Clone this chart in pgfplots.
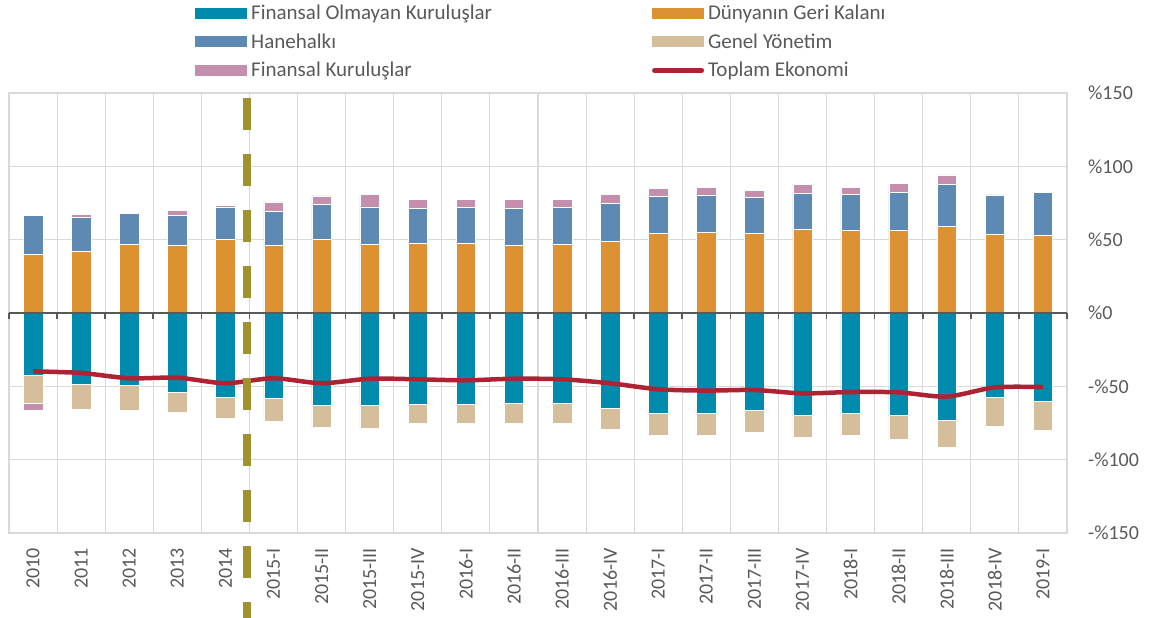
\documentclass[border=0pt]{standalone}
\usepackage{fontspec}
\setmainfont{Carlito}
\usepackage{pgfplots}
\pgfplotsset{compat=1.18}
\usepackage{pgfplotstable}

\definecolor{fok}{HTML}{008AAD}
\definecolor{dgk}{HTML}{DC9232}
\definecolor{hane}{HTML}{5E89B2}
\definecolor{genel}{HTML}{D5BE9B}
\definecolor{fk}{HTML}{C48FAC}
\definecolor{toplam}{HTML}{AE2334}
\definecolor{olivedash}{HTML}{A0922E}
\definecolor{txt}{HTML}{595959}
\definecolor{grd}{HTML}{D9D9D9}

% x: 0 = 2010 ... 4 = 2014, 5 = 2015-I ... 21 = 2019-I
\pgfplotstableread{
x  dgk  hane fkp  fok   genel fkn  toplam
0  40.0 26.4 0.0 -42.3 -19.1 -5.0 -39.8
1  41.8 23.2 2.3 -48.4 -17.5  0.0 -40.9
2  46.8 21.2 0.0 -49.1 -17.3 -0.6 -44.5
3  46.1 20.3 3.4 -54.1 -13.6  0.0 -44.1
4  50.2 21.6 1.8 -57.7 -14.4  0.0 -47.9
5  46.1 23.4 6.2 -58.2 -15.7  0.0 -44.5
6  50.2 23.7 5.9 -62.9 -15.3  0.0 -47.9
7  47.0 25.3 8.4 -62.9 -15.7  0.0 -44.8
8  47.5 23.6 6.2 -62.5 -13.0  0.0 -45.2
9  47.5 24.3 5.5 -62.0 -13.5  0.0 -45.9
10 46.1 25.0 6.2 -61.4 -13.6  0.0 -44.8
11 46.6 25.2 5.9 -61.6 -13.9  0.0 -45.2
12 48.9 25.6 6.2 -65.0 -14.1  0.0 -47.9
13 54.1 25.2 5.7 -68.2 -15.2  0.0 -52.0
14 55.2 25.3 5.0 -68.2 -15.2  0.0 -52.9
15 54.3 24.3 4.8 -66.1 -15.0  0.0 -52.5
16 57.0 24.4 6.1 -69.5 -15.5  0.0 -54.8
17 56.1 24.6 5.0 -68.2 -15.2  0.0 -53.9
18 56.1 25.9 6.4 -70.0 -15.9  0.0 -54.1
19 59.1 28.4 6.6 -73.0 -18.8  0.0 -57.0
20 53.9 26.6 0.0 -57.7 -19.3 -0.9 -50.7
21 53.0 29.0 1.0 -60.2 -20.0  0.0 -50.5
}\data

\pgfplotsset{
  base/.style={
    scale only axis, width=1058pt, height=440pt,
    xmin=-0.5, xmax=21.5, ymin=-150, ymax=150,
    at={(0pt,0pt)}, anchor=south west,
  },
  bars/.style={ybar stacked, bar width=0.405, bar shift=0pt},
  seg/.style={fill=#1, draw=white, line width=0.5pt},
  barleg/.style={legend image code/.code={\fill[##1, draw=none] (0pt,-5.5pt) rectangle (52pt,5.5pt);}},
  lineleg/.style={legend image code/.code={\draw[##1, line width=5pt, line cap=round] (2.5pt,0pt) -- (49.5pt,0pt);}},
}

\begin{document}
\begin{tikzpicture}
\useasboundingbox (-9pt,-85pt) rectangle (1147pt,533pt);

% grid, labels and positive stack
\begin{axis}[base, bars,
  axis line style={draw=grd, line width=1.2pt},
  xtick={0,...,21},
  xticklabels={2010,2011,2012,2013,2014,2015-I,2015-II,2015-III,2015-IV,2016-I,2016-II,2016-III,2016-IV,2017-I,2017-II,2017-III,2017-IV,2018-I,2018-II,2018-III,2018-IV,2019-I},
  minor xtick={-0.5,0.5,...,21.5},
  xminorgrids, ymajorgrids,
  minor grid style={draw=grd, line width=1.1pt},
  major grid style={draw=grd, line width=1.1pt},
  ytick={-150,-100,...,150},
  yticklabels={-\%150,-\%100,-\%50,\%0,\%50,\%100,\%150},
  ytick pos=right, xtick pos=bottom,
  major tick length=0pt, minor tick length=0pt,
  tick style={draw=none},
  xticklabel style={rotate=90, anchor=east, inner sep=0pt, text=txt, font=\fontsize{20}{24}\selectfont},
  xticklabel shift=15pt,
  yticklabel style={anchor=west, inner sep=0pt, text=txt, font=\fontsize{20}{24}\selectfont},
  yticklabel shift=21pt,
]
\addplot[seg=dgk] table[x=x, y=dgk] {\data};
\addplot[seg=hane] table[x=x, y=hane] {\data};
\addplot[seg=fk] table[x=x, y=fkp] {\data};
\end{axis}

% negative stack
\begin{axis}[base, bars, hide axis]
\addplot[seg=fok] table[x=x, y=fok] {\data};
\addplot[seg=genel] table[x=x, y=genel] {\data};
\addplot[seg=fk] table[x=x, y=fkn] {\data};
\end{axis}

% zero line, total line, break marker, legend
\begin{axis}[base, hide axis, clip=false,
  legend columns=2, legend cell align=left,
  legend style={draw=none, fill=none, inner sep=0pt, text=txt,
    at={(0.1758,1.2045)}, anchor=north west,
    font=\fontsize{21}{25}\selectfont,
    nodes={inner sep=2pt}, row sep=8.5pt,
    /tikz/every odd column/.append style={column sep=2pt},
    /tikz/every even column/.append style={column sep=158pt}},
]
\draw[txt, line width=2.5pt] (axis cs:-0.5,0) -- (axis cs:21.5,0);
\pgfplotsinvokeforeach{-0.5,0.5,...,21.5}{
  \draw[txt, line width=1.6pt] (axis cs:#1,0) -- ([yshift=-6pt]axis cs:#1,0);
}
\addplot[toplam, line width=4.5pt, smooth, tension=0.45, forget plot] table[x=x, y=toplam] {\data};
\draw[olivedash, line width=8pt, dash pattern=on 32pt off 24pt] (axis cs:4.446,146.4) -- (axis cs:4.446,-212);

\addlegendimage{barleg, fill=fok}
\addlegendentry{Finansal Olmayan Kuruluşlar}
\addlegendimage{barleg, fill=dgk}
\addlegendentry{Dünyanın Geri Kalanı}
\addlegendimage{barleg, fill=hane}
\addlegendentry{Hanehalkı}
\addlegendimage{barleg, fill=genel}
\addlegendentry{Genel Yönetim}
\addlegendimage{barleg, fill=fk}
\addlegendentry{Finansal Kuruluşlar}
\addlegendimage{lineleg, draw=toplam}
\addlegendentry{Toplam Ekonomi}
\end{axis}
\end{tikzpicture}
\end{document}
